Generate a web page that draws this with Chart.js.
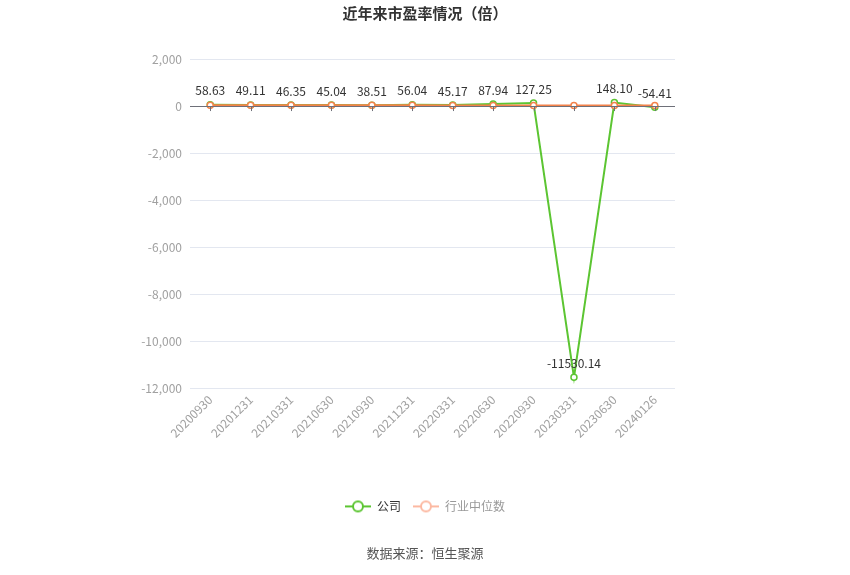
<!DOCTYPE html>
<html>
<head>
<meta charset="utf-8">
<script src="https://cdn.jsdelivr.net/npm/chart.js@4/dist/chart.umd.min.js"></script>
<style>
html,body{margin:0;padding:0;background:#fff;}
#wrap{width:850px;height:575px;}
</style>
</head>
<body>
<div id="wrap"><canvas id="c"></canvas></div>
<script>
const categories = ['20200930','20201231','20210331','20210630','20210930','20211231','20220331','20220630','20220930','20230331','20230630','20240126'];
const companyPE = [58.63, 49.11, 46.35, 45.04, 38.51, 56.04, 45.17, 87.94, 127.25, -11530.14, 148.10, -54.41];
const industryPE = [34.2, 31.5, 32.8, 31.0, 30.4, 29.1, 27.6, 24.3, 22.8, 25.6, 26.2, 24.5];
const yTicks = [2000, 0, -2000, -4000, -6000, -8000, -10000, -12000];
const seriesNames = ['公司', '行业中位数'];
const titleText = '近年来市盈率情况（倍）';
const sourceText = '数据来源：恒生聚源';

const FONT = "'Noto Sans CJK SC', 'Noto Sans', sans-serif";
const GREEN = '#5cc532';
const ORANGE = '#f4824a';

function legendIcon(color, fill) {
  const c = document.createElement('canvas');
  c.width = 26; c.height = 14;
  const g = c.getContext('2d');
  g.strokeStyle = color; g.lineWidth = 2;
  g.beginPath(); g.moveTo(0, 7); g.lineTo(26, 7); g.stroke();
  g.beginPath(); g.arc(13, 7, 5, 0, Math.PI * 2);
  g.fillStyle = fill; g.fill(); g.stroke();
  return c;
}
const iconCompany = legendIcon(GREEN, '#fff');
const iconIndustry = legendIcon('#fcb9a2', '#fff');

const zeroAxisPlugin = {
  id: 'zeroAxis',
  afterDatasetsDraw(chart) {
    const {ctx, scales: {x, y}, chartArea} = chart;
    const y0 = y.getPixelForValue(0);
    ctx.save();
    ctx.strokeStyle = '#6e7079';
    ctx.lineWidth = 1;
    ctx.beginPath();
    ctx.moveTo(chartArea.left, Math.round(y0) + 0.5);
    ctx.lineTo(chartArea.right, Math.round(y0) + 0.5);
    for (let i = 0; i < categories.length; i++) {
      const px = Math.round(x.getPixelForValue(i)) + 0.5;
      ctx.moveTo(px, y0);
      ctx.lineTo(px, y0 + 5);
    }
    ctx.stroke();
    ctx.restore();
  }
};

const labelPlugin = {
  id: 'valueLabels',
  afterDatasetsDraw(chart) {
    const {ctx} = chart;
    const meta = chart.getDatasetMeta(0);
    ctx.save();
    ctx.font = '12px ' + FONT;
    ctx.fillStyle = '#333';
    ctx.textAlign = 'center';
    ctx.textBaseline = 'bottom';
    meta.data.forEach((pt, i) => {
      ctx.fillText(companyPE[i].toFixed(2), pt.x, pt.y - 8);
    });
    ctx.restore();
  }
};

new Chart(document.getElementById('c'), {
  type: 'line',
  data: {
    labels: categories,
    datasets: [
      {
        label: seriesNames[0],
        data: companyPE,
        borderColor: GREEN,
        backgroundColor: '#fff',
        borderWidth: 2,
        pointRadius: 3,
        pointBorderWidth: 1.5,
        pointBackgroundColor: '#fff',
        pointBorderColor: GREEN,
        tension: 0,
        order: 2
      },
      {
        label: seriesNames[1],
        data: industryPE,
        borderColor: ORANGE,
        backgroundColor: '#fff',
        borderWidth: 2,
        pointRadius: 3,
        pointBorderWidth: 1.5,
        pointBackgroundColor: '#fff',
        pointBorderColor: ORANGE,
        tension: 0,
        order: 1
      }
    ]
  },
  options: {
    responsive: true,
    maintainAspectRatio: false,
    animation: false,
    layout: {padding: {left: 0, right: 0, top: 0, bottom: 0}},
    scales: {
      x: {
        offset: true,
        grid: {display: false, drawTicks: false},
        border: {display: false},
        ticks: {
          color: '#a0a0a0',
          font: {size: 12, family: FONT},
          minRotation: 45,
          maxRotation: 45,
          padding: 4,
          autoSkip: false
        },
        afterFit(scale) { scale.height = 100; }
      },
      y: {
        min: -12000,
        max: 2000,
        afterBuildTicks(scale) { scale.ticks = yTicks.map(v => ({value: v})); },
        grid: {color: '#e3e7f0', drawTicks: false},
        border: {display: false},
        ticks: {
          color: '#a0a0a0',
          font: {size: 12, family: FONT},
          padding: 8,
          callback: v => v.toLocaleString('en-US')
        },
        afterFit(scale) { scale.width = 190; }
      },
      yr: {
        position: 'right',
        display: true,
        grid: {display: false},
        border: {display: false},
        ticks: {display: false},
        afterFit(scale) { scale.width = 175; }
      }
    },
    plugins: {
      title: {
        display: true,
        text: titleText,
        color: '#333',
        font: {size: 15, weight: 'bold', family: FONT},
        padding: {top: 4, bottom: 37}
      },
      subtitle: {
        display: true,
        text: sourceText,
        position: 'bottom',
        color: '#555',
        font: {size: 13, family: FONT},
        padding: {top: 23, bottom: 14}
      },
      legend: {
        display: true,
        position: 'bottom',
        labels: {
          usePointStyle: true,
          pointStyleWidth: 26,
          font: {size: 12, family: FONT},
          padding: 12,
          generateLabels(chart) {
            return chart.data.datasets.map((ds, i) => ({
              text: ds.label,
              pointStyle: i === 0 ? iconCompany : iconIndustry,
              fontColor: i === 0 ? '#333' : '#999',
              datasetIndex: i,
              hidden: false,
              lineWidth: 0,
              strokeStyle: 'transparent',
              fillStyle: 'transparent'
            }));
          }
        }
      },
      tooltip: {enabled: false}
    }
  },
  plugins: [zeroAxisPlugin, labelPlugin]
});
</script>
</body>
</html>
